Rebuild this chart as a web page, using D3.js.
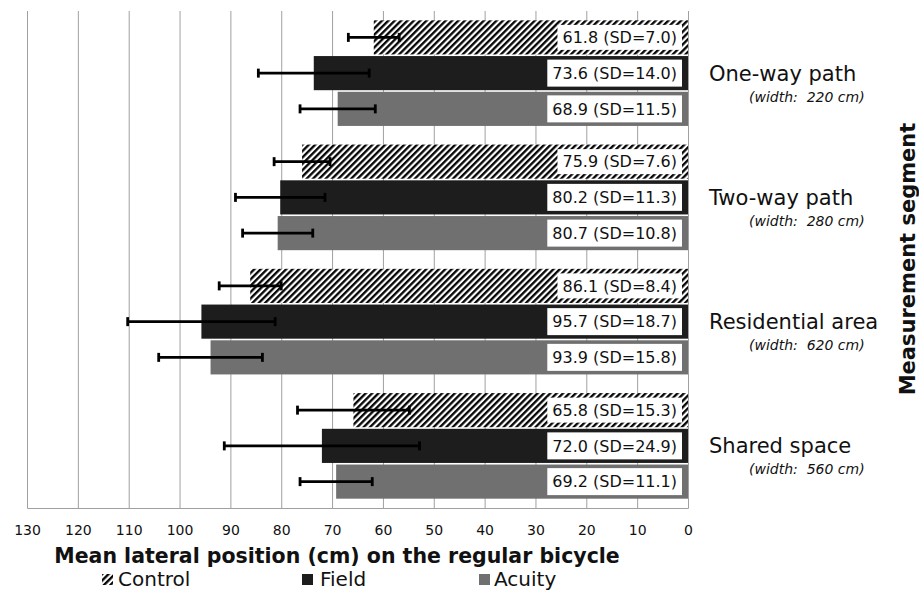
<!DOCTYPE html>
<html>
<head>
<meta charset="utf-8">
<script src="https://cdn.jsdelivr.net/npm/d3@7"></script>
<style>
  html, body { margin: 0; padding: 0; background: #fff; }
  svg { display: block; font-family: "DejaVu Sans", Verdana, sans-serif; }
</style>
</head>
<body>
<svg id="chart" width="919" height="590"></svg>
<script>
// ---------- data ----------
const categories = ["One-way path", "Two-way path", "Residential area", "Shared space"];
const segmentWidths = ["(width:  220 cm)", "(width:  280 cm)", "(width:  620 cm)", "(width:  560 cm)"];
const series = ["Control", "Field", "Acuity"];

const controlMean = [61.8, 75.9, 86.1, 65.8];
const fieldMean   = [73.6, 80.2, 95.7, 72.0];
const acuityMean  = [68.9, 80.7, 93.9, 69.2];

const controlSD = [7.0, 7.6, 8.4, 15.3];
const fieldSD   = [14.0, 11.3, 18.7, 24.9];
const acuitySD  = [11.5, 10.8, 15.8, 11.1];

// error bar half-widths
const controlErr = [5.0, 5.5, 6.1, 11.0];
const fieldErr   = [10.9, 8.8, 14.5, 19.2];
const acuityErr  = [7.4, 6.9, 10.2, 7.1];

const xTicks = [0, 10, 20, 30, 40, 50, 60, 70, 80, 90, 100, 110, 120, 130];

const xTitle = "Mean lateral position (cm) on the regular bicycle";
const yTitle = "Measurement segment";

// ---------- build rows ----------
const means = { Control: controlMean, Field: fieldMean, Acuity: acuityMean };
const sds   = { Control: controlSD,   Field: fieldSD,   Acuity: acuitySD };
const errs  = { Control: controlErr,  Field: fieldErr,  Acuity: acuityErr };
const rows = [];
categories.forEach((c, i) => series.forEach(s => rows.push({
  cat: c, s, v: means[s][i], sd: sds[s][i], e: errs[s][i]
})));

// ---------- layout ----------
const svg = d3.select("#chart");
const plotTop = 11, plotBottom = 508;
const x = d3.scaleLinear().domain([0, 130]).range([688, 27]);
const y0 = d3.scaleBand().domain(categories).range([plotTop, plotBottom]).paddingInner(0.15).paddingOuter(0.075);
const y1 = d3.scaleBand().domain(series).range([0, y0.bandwidth()]).paddingInner(0.045);

// hatch pattern
const defs = svg.append("defs");
const pat = defs.append("pattern").attr("id", "hatch")
  .attr("patternUnits", "userSpaceOnUse").attr("width", 4.5).attr("height", 4.5)
  .attr("patternTransform", "rotate(45)");
pat.append("rect").attr("width", 4.5).attr("height", 4.5).attr("fill", "#fff");
pat.append("line").attr("x1", 1.2).attr("y1", 0).attr("x2", 1.2).attr("y2", 4.5)
  .attr("stroke", "#000").attr("stroke-width", 2.3);

const fills = { Control: "url(#hatch)", Field: "#1d1d1d", Acuity: "#707070" };

// gridlines
const grid = svg.append("g").attr("transform", `translate(0,${plotBottom})`)
  .call(d3.axisBottom(x).tickValues(xTicks).tickSize(-(plotBottom - plotTop)).tickFormat(""));
grid.select(".domain").attr("stroke", "#a0a0a0");
grid.selectAll(".tick line").attr("stroke", "#a0a0a0").attr("stroke-width", 1);

// bars
const barG = svg.append("g");
barG.selectAll("rect").data(rows).join("rect")
  .attr("x", d => x(d.v))
  .attr("y", d => y0(d.cat) + y1(d.s))
  .attr("width", d => x(0) - x(d.v))
  .attr("height", y1.bandwidth())
  .attr("fill", d => fills[d.s]);

// value labels
const lblG = svg.append("g");
rows.forEach(d => {
  const cy = y0(d.cat) + y1(d.s) + y1.bandwidth() / 2;
  const g = lblG.append("g");
  const box = g.append("rect").attr("fill", "#fff");
  const t = g.append("text")
    .attr("x", x(0) - 11).attr("y", cy + 5.8)
    .attr("text-anchor", "end").attr("font-size", 16).attr("fill", "#111")
    .text(`${d.v.toFixed(1)} (SD=${d.sd.toFixed(1)})`);
  const w = t.node().getComputedTextLength();
  const bh = d.s === "Control" ? 25 : 27;
  box.attr("x", x(0) - 6 - w - 10).attr("y", cy - bh / 2)
    .attr("width", w + 10).attr("height", bh);
});

// error bars
const errG = svg.append("g").attr("stroke", "#000");
rows.forEach(d => {
  const cy = y0(d.cat) + y1(d.s) + y1.bandwidth() / 2;
  const x1 = x(d.v + d.e), x2 = x(d.v - d.e);
  errG.append("line").attr("x1", x1).attr("x2", x2).attr("y1", cy).attr("y2", cy).attr("stroke-width", 2.8);
  [x1, x2].forEach(xx => errG.append("line").attr("x1", xx).attr("x2", xx)
    .attr("y1", cy - 4.5).attr("y2", cy + 4.5).attr("stroke-width", 2.8));
});

// x axis labels
const xa = svg.append("g").attr("transform", `translate(0,${plotBottom})`)
  .call(d3.axisBottom(x).tickValues(xTicks).tickSize(0).tickPadding(17));
xa.select(".domain").remove();
xa.selectAll("text").attr("font-size", 14).attr("font-family", "DejaVu Sans").attr("fill", "#111");

// category labels
const catG = svg.append("g");
categories.forEach((c, i) => {
  const cy = y0(c) + y0.bandwidth() / 2;
  catG.append("text").attr("x", 709).attr("y", cy + 7.5)
    .attr("font-size", 21).attr("fill", "#111").text(c);
  catG.append("text").attr("x", 749).attr("y", cy + 28.5)
    .attr("font-size", 14).attr("font-style", "italic").attr("fill", "#111")
    .attr("xml:space", "preserve").style("white-space", "pre").text(segmentWidths[i]);
});

// axis titles
svg.append("text").attr("x", 337).attr("y", 562.5).attr("text-anchor", "middle")
  .attr("font-size", 20.5).attr("font-weight", "bold").attr("fill", "#111").text(xTitle);
svg.append("text").attr("transform", "translate(915,259) rotate(-90)").attr("text-anchor", "middle")
  .attr("font-size", 21).attr("font-weight", "bold").attr("fill", "#111").text(yTitle);

// legend
const legendX = { Control: [102, 118], Field: [302, 320], Acuity: [479, 494] };
const lg = svg.append("g");
series.forEach(s => {
  const [mx, tx] = legendX[s];
  lg.append("rect").attr("x", mx).attr("y", 574).attr("width", 11).attr("height", 11).attr("fill", fills[s]);
  lg.append("text").attr("x", tx).attr("y", 586).attr("font-size", 20).attr("fill", "#111").text(s);
});
</script>
</body>
</html>
